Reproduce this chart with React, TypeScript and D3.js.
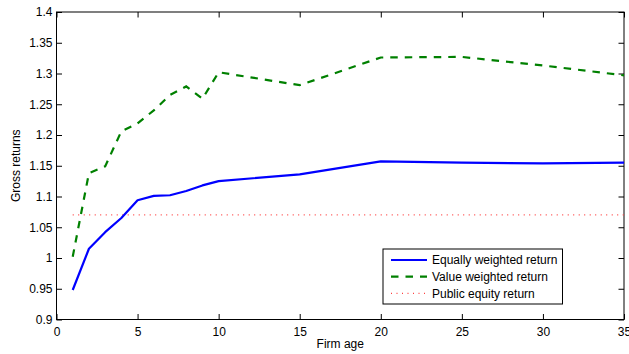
import React, { useEffect, useRef } from 'react';
import * as d3 from 'd3';

// firm age (years) and gross returns
const firmAges = [1, 2, 3, 4, 5, 6, 7, 8, 9, 10, 15, 20, 25, 30, 35];
const equalWeighted = [0.948, 1.015, 1.042, 1.065, 1.094, 1.101, 1.102, 1.109, 1.118, 1.125, 1.136, 1.157, 1.155, 1.154, 1.155];
const valueWeighted = [1.002, 1.138, 1.149, 1.206, 1.219, 1.240, 1.265, 1.279, 1.259, 1.302, 1.281, 1.326, 1.327, 1.313, 1.297];
const publicEquity = 1.07;
const publicAges = [1, 35];

const xTicks = [0, 5, 10, 15, 20, 25, 30, 35];
const yTicks = [0.9, 0.95, 1, 1.05, 1.1, 1.15, 1.2, 1.25, 1.3, 1.35, 1.4];

const legendItems = [
  { label: 'Equally weighted return', color: '#0000ff', dash: null, width: 2.2 },
  { label: 'Value weighted return', color: '#008000', dash: '7.5,7', width: 2.2 },
  { label: 'Public equity return', color: '#ff4040', dash: '1,4.5', width: 1.2 }
];

const W = 629;
const H = 354;
const FONT = '"Liberation Sans", Arial, Helvetica, sans-serif';

export default function App() {
  const svgRef = useRef<SVGSVGElement>(null);

  useEffect(() => {
    const svg = d3.select(svgRef.current);
    svg.selectAll('*').remove();

    const left = 56.5, right = 624, top = 12, bottom = 319.5;
    const x = d3.scaleLinear().domain([0, 35]).range([left, right]);
    const y = d3.scaleLinear().domain([0.9, 1.4]).range([bottom, top]);
    const tickLen = 5.5;

    svg.append('rect').attr('width', W).attr('height', H).attr('fill', '#fff');

    // axes box
    svg.append('rect')
      .attr('x', left).attr('y', top)
      .attr('width', right - left).attr('height', bottom - top)
      .attr('fill', 'none').attr('stroke', '#000').attr('stroke-width', 1);

    // bottom axis with labels, inward ticks
    const xAxis = svg.append('g')
      .attr('transform', `translate(0,${bottom})`)
      .call(d3.axisBottom(x).tickValues(xTicks).tickSize(-tickLen).tickPadding(8).tickFormat(d3.format('d')));
    xAxis.select('.domain').remove();
    xAxis.selectAll('text').attr('font-size', 12).attr('font-family', FONT).attr('fill', '#000');

    // top axis, ticks only
    const xTop = svg.append('g')
      .attr('transform', `translate(0,${top})`)
      .call(d3.axisTop(x).tickValues(xTicks).tickSize(-tickLen).tickFormat(() => ''));
    xTop.select('.domain').remove();

    // left axis with labels
    const yAxis = svg.append('g')
      .attr('transform', `translate(${left},0)`)
      .call(d3.axisLeft(y).tickValues(yTicks).tickSize(-tickLen).tickPadding(4).tickFormat(d => String(+d)));
    yAxis.select('.domain').remove();
    yAxis.selectAll('text').attr('font-size', 12).attr('font-family', FONT).attr('fill', '#000');

    // right axis, ticks only
    const yRight = svg.append('g')
      .attr('transform', `translate(${right},0)`)
      .call(d3.axisRight(y).tickValues(yTicks).tickSize(-tickLen).tickFormat(() => ''));
    yRight.select('.domain').remove();

    svg.selectAll('.tick line').attr('stroke', '#000');

    const line = d3.line<[number, number]>()
      .x(d => x(d[0]))
      .y(d => y(d[1]));

    // public equity benchmark
    svg.append('path')
      .datum(publicAges.map(a => [a, publicEquity] as [number, number]))
      .attr('d', line)
      .attr('fill', 'none')
      .attr('stroke', legendItems[2].color)
      .attr('stroke-width', legendItems[2].width)
      .attr('stroke-dasharray', legendItems[2].dash);

    svg.append('path')
      .datum(firmAges.map((a, i) => [a, valueWeighted[i]] as [number, number]))
      .attr('d', line)
      .attr('fill', 'none')
      .attr('stroke', legendItems[1].color)
      .attr('stroke-width', legendItems[1].width)
      .attr('stroke-dasharray', legendItems[1].dash);

    svg.append('path')
      .datum(firmAges.map((a, i) => [a, equalWeighted[i]] as [number, number]))
      .attr('d', line)
      .attr('fill', 'none')
      .attr('stroke', legendItems[0].color)
      .attr('stroke-width', legendItems[0].width)
      .attr('stroke-linejoin', 'round');

    // axis titles
    svg.append('text')
      .attr('x', (left + right) / 2).attr('y', 348)
      .attr('text-anchor', 'middle')
      .attr('font-size', 12).attr('font-family', FONT)
      .text('Firm age');

    svg.append('text')
      .attr('transform', `translate(20,${(top + bottom) / 2}) rotate(-90)`)
      .attr('text-anchor', 'middle')
      .attr('font-size', 12).attr('font-family', FONT)
      .text('Gross returns');

    // legend
    const lg = svg.append('g').attr('transform', 'translate(383,249)');
    lg.append('rect')
      .attr('width', 179.5).attr('height', 55)
      .attr('fill', '#fff').attr('stroke', '#000').attr('stroke-width', 1);

    legendItems.forEach((item, i) => {
      const cy = 11 + i * 16.7;
      lg.append('line')
        .attr('x1', 8).attr('x2', 44)
        .attr('y1', cy).attr('y2', cy)
        .attr('stroke', item.color)
        .attr('stroke-width', item.width)
        .attr('stroke-dasharray', item.dash);
      lg.append('text')
        .attr('x', 49).attr('y', cy)
        .attr('dy', '0.35em')
        .attr('font-size', 12).attr('font-family', FONT)
        .text(item.label);
    });
  }, []);

  return (
    <svg
      ref={svgRef}
      width={W}
      height={H}
      style={{ position: 'absolute', left: 0, top: 0, display: 'block' }}
    />
  );
}
